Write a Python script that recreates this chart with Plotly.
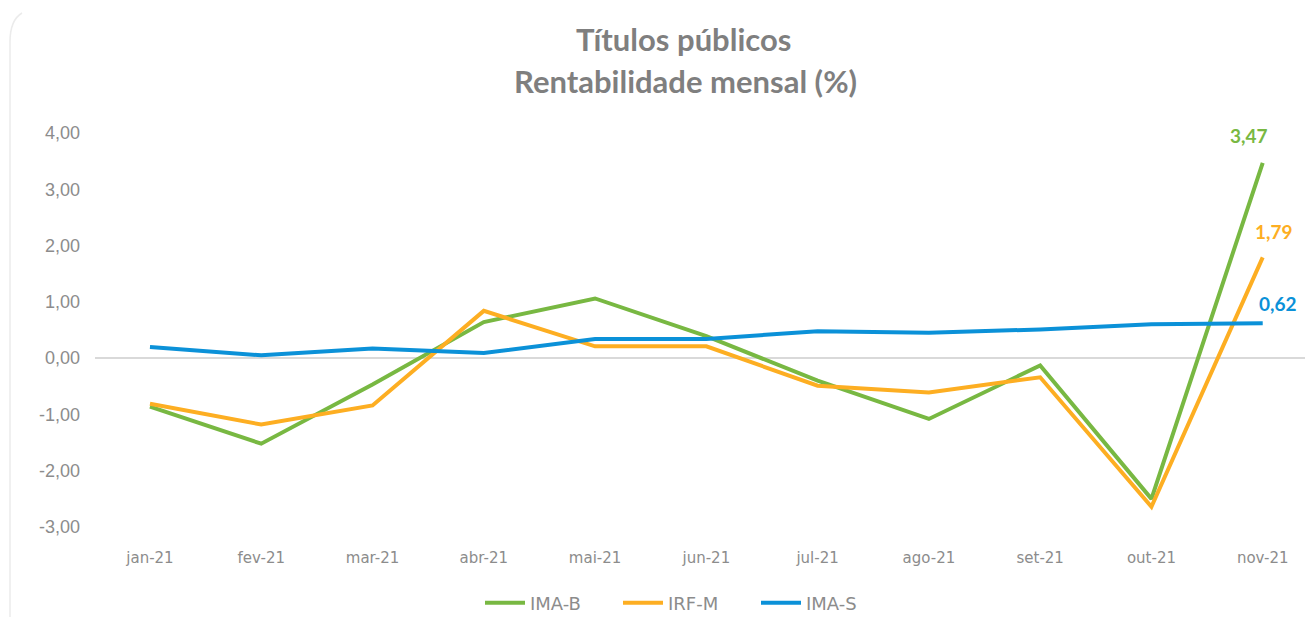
import plotly.graph_objects as go

months = ["jan-21", "fev-21", "mar-21", "abr-21", "mai-21", "jun-21",
          "jul-21", "ago-21", "set-21", "out-21", "nov-21"]
ima_b = [-0.86, -1.52, -0.47, 0.64, 1.06, 0.39, -0.40, -1.08, -0.13, -2.50, 3.47]
irf_m = [-0.81, -1.18, -0.84, 0.84, 0.21, 0.21, -0.49, -0.61, -0.34, -2.64, 1.79]
ima_s = [0.20, 0.05, 0.17, 0.09, 0.34, 0.34, 0.48, 0.45, 0.51, 0.60, 0.62]
y_ticks = [-3, -2, -1, 0, 1, 2, 3, 4]
y_tick_labels = ["-3,00", "-2,00", "-1,00", "0,00", "1,00", "2,00", "3,00", "4,00"]

GREEN = "#78B842"
ORANGE = "#FDAE22"
BLUE = "#0B91D8"

W, H = 1305, 617
ML, MR, MT, MB = 95, 0, 133, 90
PW = W - ML - MR
PH = H - MT - MB


def px_x(px):
    return (px - ML) / PW


def px_y(py):
    return (H - MB - py) / PH


fig = go.Figure()
for name, vals, col in [("IMA-B", ima_b, GREEN), ("IRF-M", irf_m, ORANGE), ("IMA-S", ima_s, BLUE)]:
    fig.add_trace(go.Scatter(x=list(range(len(months))), y=vals, name=name, mode="lines",
                             line=dict(color=col, width=4), cliponaxis=False))

# end labels
for vals, col, xs, py in [(ima_b, GREEN, -14, 135), (irf_m, ORANGE, 11, 231), (ima_s, BLUE, 15, 303)]:
    fig.add_annotation(x=len(months) - 1, y=px_y(py), xref="x", yref="paper",
                       text=f"{vals[-1]:.2f}".replace(".", ","), showarrow=False,
                       xshift=xs, yanchor="middle",
                       font=dict(family="Lato", size=19, color=col, weight="bold"))

fig.add_annotation(x=px_x(683), y=px_y(39), xref="paper", yref="paper", yanchor="middle",
                   text="Títulos públicos", showarrow=False,
                   font=dict(family="Lato", size=31, color="#7F7F7F", weight="bold"))
fig.add_annotation(x=px_x(685), y=px_y(81), xref="paper", yref="paper", yanchor="middle",
                   text="Rentabilidade mensal (%)", showarrow=False,
                   font=dict(family="Lato", size=31, color="#7F7F7F", weight="bold"))

# faint card border on the left
x10 = px_x(10)
fig.add_shape(type="path", xref="paper", yref="paper",
              path=f"M {x10},{px_y(617)} L {x10},{px_y(42)} Q {x10},{px_y(20)} {px_x(22)},{px_y(13)}",
              line=dict(color="#EBEBEB", width=1.5))

fig.update_layout(
    width=W, height=H,
    margin=dict(l=ML, r=MR, t=MT, b=MB, autoexpand=False),
    paper_bgcolor="white", plot_bgcolor="white",
    showlegend=True,
    legend=dict(orientation="h", x=px_x(480), xanchor="left", y=px_y(603), yanchor="middle",
                font=dict(family="DejaVu Sans", size=18, color="#8C8C8C"),
                itemwidth=40, entrywidth=83, traceorder="normal"),
    xaxis=dict(tickmode="array", tickvals=list(range(len(months))), ticktext=months,
               range=[-0.494, 10.38], showgrid=False, zeroline=False, showline=False,
               ticks="", ticklabelstandoff=20, automargin=False,
               tickfont=dict(family="DejaVu Sans", size=15, color="#8C8C8C")),
    yaxis=dict(tickmode="array", tickvals=y_ticks, ticktext=y_tick_labels,
               range=[-3, 4], showgrid=False, zeroline=True, zerolinecolor="#D9D9D9",
               zerolinewidth=1.5, showline=False, ticks="", ticklabelstandoff=14,
               automargin=False,
               tickfont=dict(family="Liberation Sans", size=18, color="#8C8C8C")),
)

fig.write_html("out.html")
